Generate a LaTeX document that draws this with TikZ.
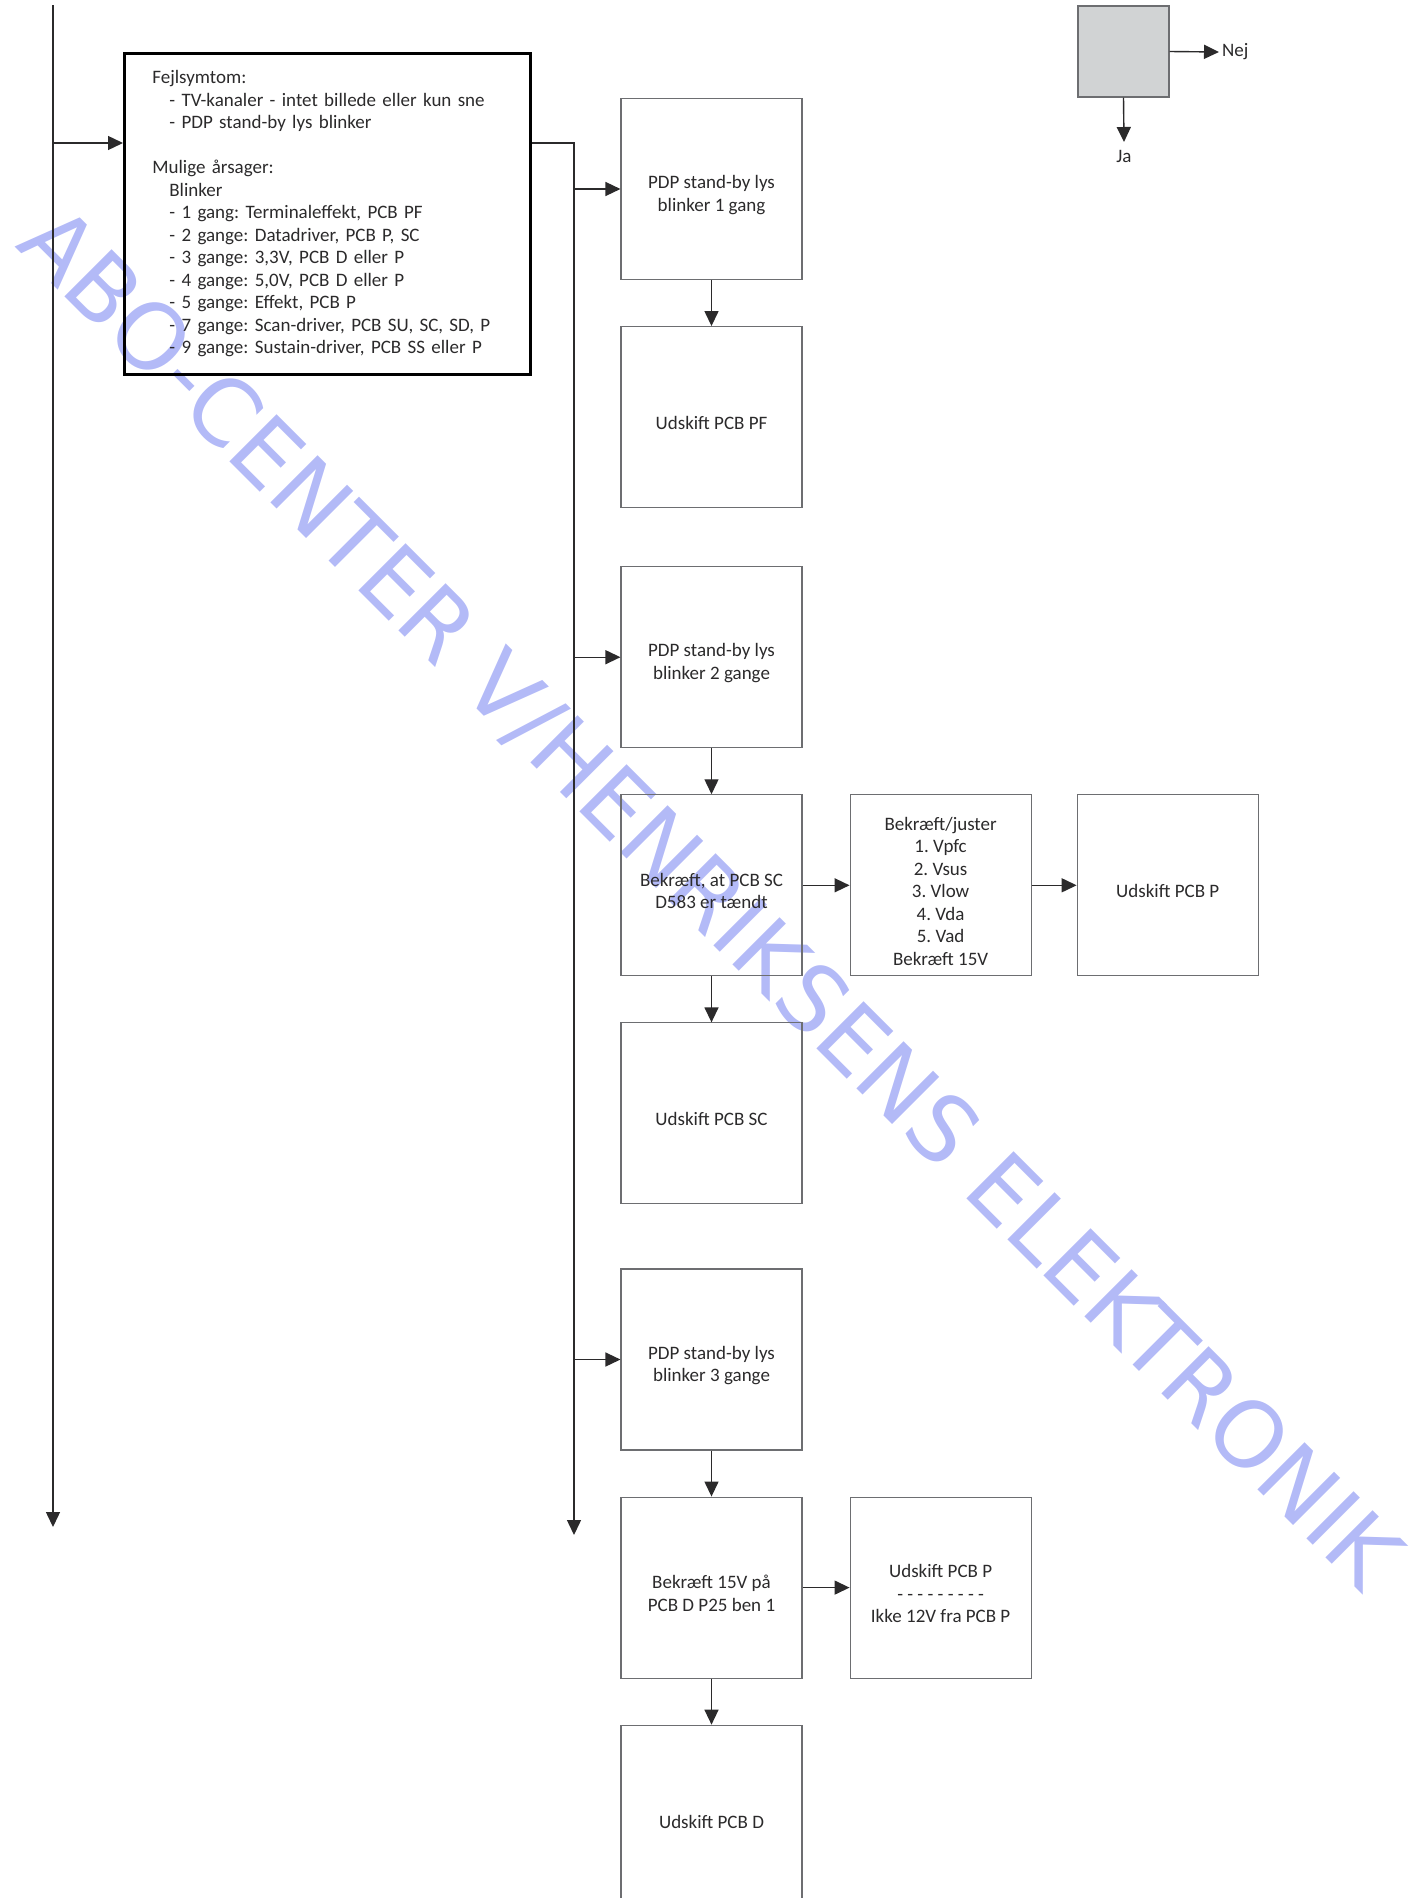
\documentclass[tikz,border=0pt]{standalone}
\usepackage{fontspec}
\setmainfont{Carlito}
\newfontfamily\stampfont{DejaVu Sans}
\usetikzlibrary{positioning, arrows.meta}
\definecolor{linegray}{HTML}{2B2A2B}
\definecolor{boxgray}{HTML}{6D6E71}
\definecolor{legendfill}{HTML}{D1D3D4}
\definecolor{stampblue}{HTML}{B3BAF7}
\definecolor{txtgray}{HTML}{2B2A2B}
\frenchspacing
\newcommand{\boxstrut}{\rule{0pt}{25pt}}

\begin{document}
\begin{tikzpicture}[
    x=1pt, y=-1pt,
    node distance=46pt,
    box/.style={
        draw=boxgray,
        line width=1.1pt,
        align=center,
        minimum width=181pt,
        minimum height=181pt,
        inner sep=2pt,
        font=\fontsize{19}{22.5}\selectfont,
        text=txtgray,
        execute at begin node={\boxstrut}
    },
    symptombox/.style={
        draw=black,
        line width=2.8pt,
        align=left,
        text width=350pt,
        minimum width=406pt,
        minimum height=321pt,
        inner xsep=28pt,
        font=\fontsize{19}{22.5}\selectfont,
        text=txtgray
    },
    label text/.style={font=\fontsize{19}{22.5}\selectfont, text=txtgray, inner sep=3pt},
    arrow/.style={-{Triangle[length=15pt,width=14pt]}, line width=1.4pt, draw=linegray}
]
\useasboundingbox (0,0) rectangle (1415,1898);

% --- watermark ---
\node[rotate=-45, text=stampblue, font=\stampfont\fontsize{91.5}{91.5}\selectfont,
      inner sep=0pt, anchor=base] (stamp) at (688,920) {ABO-CENTER V/HENRIKSENS ELEKTRONIK};

% --- symptom box ---
\node[symptombox, anchor=north west] (symptom) at (123,52) {%
Fejlsymtom:\\
\hspace*{17pt}- TV-kanaler - intet billede eller kun sne\\
\hspace*{17pt}- PDP stand-by lys blinker\\[22.5pt]
Mulige årsager:\\
\hspace*{17pt}Blinker\\
\hspace*{17pt}- 1 gang: Terminaleffekt, PCB PF\\
\hspace*{17pt}- 2 gange: Datadriver, PCB P, SC\\
\hspace*{17pt}- 3 gange: 3,3V, PCB D eller P\\
\hspace*{17pt}- 4 gange: 5,0V, PCB D eller P\\
\hspace*{17pt}- 5 gange: Effekt, PCB P\\
\hspace*{17pt}- 7 gange: Scan-driver, PCB SU, SC, SD, P\\
\hspace*{17pt}- 9 gange: Sustain-driver, PCB SS eller P};

% --- main column ---
\node[box] (blink1) at (711.5,189) {\boxstrut PDP stand-by lys\\blinker 1 gang};
\node[box, below=of blink1] (pcbPF) {Udskift PCB PF};
\node[box, below=58pt of pcbPF] (blink2) {\boxstrut PDP stand-by lys\\blinker 2 gange};
\node[box, below=of blink2] (checkSC) {\boxstrut Bekræft, at PCB SC\\D583 er tændt};
\node[box, below=of checkSC] (pcbSC) {Udskift PCB SC};
\node[box, below=64pt of pcbSC] (blink3) {\boxstrut PDP stand-by lys\\blinker 3 gange};
\node[box, below=of blink3] (check15) {\boxstrut Bekræft 15V på\\PCB D P25 ben 1};
\node[box, below=of check15] (pcbD) {Udskift PCB D};

% --- side boxes ---
\node[box, right=47pt of checkSC] (adjust) {\boxstrut Bekræft/juster\\1. Vpfc\\2. Vsus\\3. Vlow\\4. Vda\\5. Vad\\Bekræft 15V};
\node[box, right=45pt of adjust] (pcbP) {Udskift PCB P};
\node[box, right=47pt of check15] (pcbP12) {\boxstrut Udskift PCB P\\- - - - - - - - -\\Ikke 12V fra PCB P};

% --- legend ---
\node[draw=boxgray, line width=1.1pt, fill=legendfill, minimum size=91pt, inner sep=0pt] (decision) at (1123.5,51.5) {};
\node[label text, anchor=west] (nej) at (1219,52) {Nej};
\node[label text, anchor=north, text height=17pt] (ja) at (1124,142) {Ja};
\draw[arrow] (decision.east) -- (nej.west);
\draw[arrow] (decision.south) -- (ja.north);

% --- left trunk ---
\coordinate (leftTop) at (53,5);
\coordinate (leftTap) at (53,143);
\coordinate (leftEnd) at (53,1527);
\draw[arrow] (leftTop) -- (leftEnd);
\draw[arrow] (leftTap) -- (leftTap -| symptom.west);

% --- right trunk ---
\coordinate (split) at (574,143);
\coordinate (rightEnd) at (574,1535);
\draw[arrow] (symptom.east |- split) -- (split) -- (rightEnd);
\draw[arrow] (split |- blink1.west) -- (blink1.west);
\draw[arrow] (split |- blink2.west) -- (blink2.west);
\draw[arrow] (split |- blink3.west) -- (blink3.west);

% --- flow ---
\draw[arrow] (blink1) -- (pcbPF);
\draw[arrow] (blink2) -- (checkSC);
\draw[arrow] (checkSC) -- (pcbSC);
\draw[arrow] (checkSC) -- (adjust);
\draw[arrow] (adjust) -- (pcbP);
\draw[arrow] (blink3) -- (check15);
\draw[arrow] (check15) -- (pcbD);
\draw[arrow] (check15) -- (pcbP12);

\end{tikzpicture}
\end{document}
